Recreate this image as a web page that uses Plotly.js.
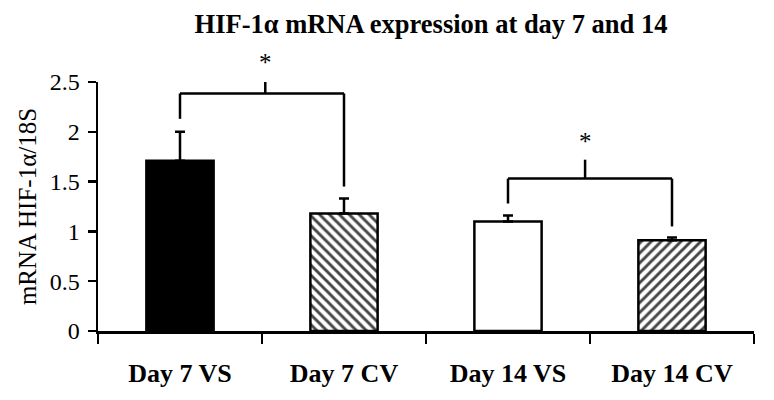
<!DOCTYPE html>
<html>
<head>
<meta charset="utf-8">
<script src="https://cdn.plot.ly/plotly-3.0.1.min.js"></script>
<style>html,body{margin:0;padding:0;background:#fff;}#chart{width:774px;height:400px;}</style>
</head>
<body>
<div id="chart"></div>
<script>
// ---- data ----
const categories = ["Day 7 VS", "Day 7 CV", "Day 14 VS", "Day 14 CV"];
const values = [1.71, 1.18, 1.10, 0.91];
const errors = [0.29, 0.15, 0.06, 0.03];
const fills = ["#000000", "#ffffff", "#ffffff", "#ffffff"];
const hatches = ["", "\\", "", "/"];
// significance brackets: pair of category indices, bracket level, leg bottoms, centre tick top, star level
const sigLeft = [0, 2];
const sigRight = [1, 3];
const sigCenter = [0.52, 2.47];
const sigLevel = [2.385, 1.53];
const sigLegLeft = [2.13, 1.28];
const sigLegRight = [1.45, 1.05];
const sigTickTop = [2.56, 1.72];
const sigStar = [2.70, 1.90];
const yRange = [0, 2.5];
const yTicks = [0, 0.5, 1, 1.5, 2, 2.5];
const yTickText = ["0", "0.5", "1", "1.5", "2", "2.5"];

const serif = "Liberation Serif, Times New Roman, serif";

const trace = {
  type: "bar",
  x: categories,
  y: values,
  width: 0.41,
  marker: {
    color: fills,
    line: {color: "#000", width: 2.5},
    pattern: {shape: hatches, fgcolor: "#000", bgcolor: "#fff", fgopacity: 1, size: 7, solidity: 0.42, fillmode: "overlay"}
  },
  error_y: {type: "data", symmetric: false, array: errors, arrayminus: errors.map(() => 0),
            color: "#000", thickness: 2.5, width: 5},
  hoverinfo: "skip"
};

const shapes = [];
const annotations = [];
const ln = {color: "#000", width: 2.5};
for (let i = 0; i < sigLeft.length; i++) {
  shapes.push({type: "line", xref: "x", yref: "y", x0: sigLeft[i], x1: sigRight[i], y0: sigLevel[i], y1: sigLevel[i], line: ln});
  shapes.push({type: "line", xref: "x", yref: "y", x0: sigLeft[i], x1: sigLeft[i], y0: sigLevel[i], y1: sigLegLeft[i], line: ln});
  shapes.push({type: "line", xref: "x", yref: "y", x0: sigRight[i], x1: sigRight[i], y0: sigLevel[i], y1: sigLegRight[i], line: ln});
  shapes.push({type: "line", xref: "x", yref: "y", x0: sigCenter[i], x1: sigCenter[i], y0: sigLevel[i], y1: sigTickTop[i], line: ln});
  annotations.push({xref: "x", yref: "paper", x: sigCenter[i], y: (sigStar[i] - yRange[0]) / (yRange[1] - yRange[0]),
                    text: "*", showarrow: false,
                    font: {family: serif, size: 25, color: "#000"}, xanchor: "center", yanchor: "middle"});
}

const layout = {
  width: 774, height: 400,
  margin: {l: 98, r: 20, t: 82, b: 69, pad: 0},
  paper_bgcolor: "#fff", plot_bgcolor: "#fff",
  showlegend: false,
  title: {text: "<b>HIF-1α mRNA expression at day 7 and 14</b>", font: {family: serif, size: 26.5, color: "#000"},
          xref: "container", x: 431/774, xanchor: "center", yref: "container", y: 1 - 24/400, yanchor: "middle"},
  xaxis: {
    type: "category", range: [-0.5, 3.5], tickson: "boundaries",
    showline: true, linecolor: "#000", linewidth: 2.5,
    ticks: "outside", ticklen: 10, tickwidth: 2.5, tickcolor: "#000",
    showgrid: false, zeroline: false,
    tickfont: {family: serif, size: 26, color: "#000"},
    ticklabelstandoff: 17,
    tickvals: categories, ticktext: categories.map(c => "<b>" + c + "</b>")
  },
  yaxis: {
    range: yRange, tickvals: yTicks, ticktext: yTickText,
    showline: true, linecolor: "#000", linewidth: 2.5,
    ticks: "outside", ticklen: 8, tickwidth: 2.5, tickcolor: "#000",
    showgrid: false, zeroline: false,
    tickfont: {family: serif, size: 24, color: "#000"},
    ticklabelstandoff: 3,
    title: {text: "mRNA HIF-1α/18S", font: {family: serif, size: 25, color: "#000"}, standoff: 6}
  },
  shapes: shapes,
  annotations: annotations
};

Plotly.newPlot("chart", [trace], layout, {displayModeBar: false, staticPlot: true});
</script>
</body>
</html>
